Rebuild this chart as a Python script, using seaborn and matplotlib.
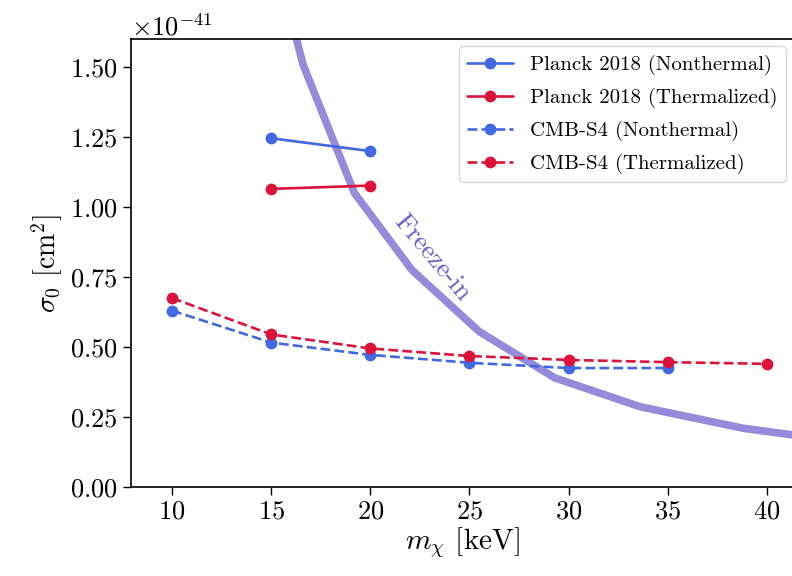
import matplotlib
matplotlib.use("Agg")
import matplotlib.pyplot as plt
import seaborn as sns
import pandas as pd

# ---- data (sigma_0 in units of 1e-41 cm^2) ----
planck_nt_m = [15, 20]
planck_nt_s = [1.246, 1.200]
planck_th_m = [15, 20]
planck_th_s = [1.065, 1.077]
s4_nt_m = [10, 15, 20, 25, 30, 35]
s4_nt_s = [0.630, 0.516, 0.472, 0.444, 0.425, 0.425]
s4_th_m = [10, 15, 20, 25, 30, 35, 40]
s4_th_s = [0.675, 0.545, 0.495, 0.468, 0.454, 0.446, 0.440]
freeze_m = [14.4, 16.6, 19.2, 22.1, 25.5, 29.3, 33.6, 38.8, 44.6]
freeze_s = [2.12, 1.51, 1.05, 0.775, 0.555, 0.39, 0.287, 0.21, 0.155]
scale = 1e-41

sns.set_style("ticks", {"axes.edgecolor": "black", "xtick.color": "black",
                        "ytick.color": "black", "text.color": "black",
                        "axes.labelcolor": "black"})
plt.rcParams["font.family"] = "serif"
plt.rcParams["font.serif"] = ["cmr10", "DejaVu Serif"]
plt.rcParams["mathtext.fontset"] = "cm"
plt.rcParams["axes.formatter.use_mathtext"] = True
plt.rcParams["axes.unicode_minus"] = True

fig = plt.figure(figsize=(7.92, 5.76), dpi=100)
ax = fig.add_axes([0.1655, 0.1545, 0.8355, 0.7775])

blue = "royalblue"
red = "crimson"

def df(m, s):
    return pd.DataFrame({"m": m, "s": [v * scale for v in s]})

sns.lineplot(data=df(freeze_m, freeze_s), x="m", y="s", ax=ax, color="slateblue",
             alpha=0.7, linewidth=5.5, zorder=1)
sns.lineplot(data=df(planck_nt_m, planck_nt_s), x="m", y="s", ax=ax, color=blue,
             marker="o", markersize=8.5, markeredgewidth=0, linewidth=1.9,
             label="Planck 2018 (Nonthermal)", zorder=3)
sns.lineplot(data=df(planck_th_m, planck_th_s), x="m", y="s", ax=ax, color=red,
             marker="o", markersize=8.5, markeredgewidth=0, linewidth=1.9,
             label="Planck 2018 (Thermalized)", zorder=3)
sns.lineplot(data=df(s4_nt_m, s4_nt_s), x="m", y="s", ax=ax, color=blue,
             marker="o", markersize=8.5, markeredgewidth=0, linewidth=1.9,
             linestyle="--", label="CMB-S4 (Nonthermal)", zorder=3)
sns.lineplot(data=df(s4_th_m, s4_th_s), x="m", y="s", ax=ax, color=red,
             marker="o", markersize=8.5, markeredgewidth=0, linewidth=1.9,
             linestyle="--", label="CMB-S4 (Thermalized)", zorder=3)

ax.text(23.1, 0.818 * scale, "Freeze-in", color="slateblue", fontsize=19,
        rotation=-50, ha="center", va="center", rotation_mode="anchor")

ax.set_xlim(7.93, 41.31)
ax.set_ylim(0, 1.6 * scale)
ax.set_xticks([10, 15, 20, 25, 30, 35, 40])
ax.set_yticks([v * scale for v in [0, 0.25, 0.5, 0.75, 1.0, 1.25, 1.5]])
ax.tick_params(labelsize=19, length=6, width=1, colors="black")
ax.yaxis.get_offset_text().set_fontsize(19)
ax.set_xlabel(r"$m_\chi$ [keV]", fontsize=21, labelpad=1)
ax.set_ylabel(r"$\sigma_0$ [cm$^2$]", fontsize=20, labelpad=4)
for sp in ax.spines.values():
    sp.set_linewidth(1.2)
    sp.set_color("black")

ax.legend(loc="upper right", fontsize=15, frameon=True, borderaxespad=0.35,
          handlelength=2.2, labelspacing=0.62)

fig.savefig("out.png", dpi=100)
